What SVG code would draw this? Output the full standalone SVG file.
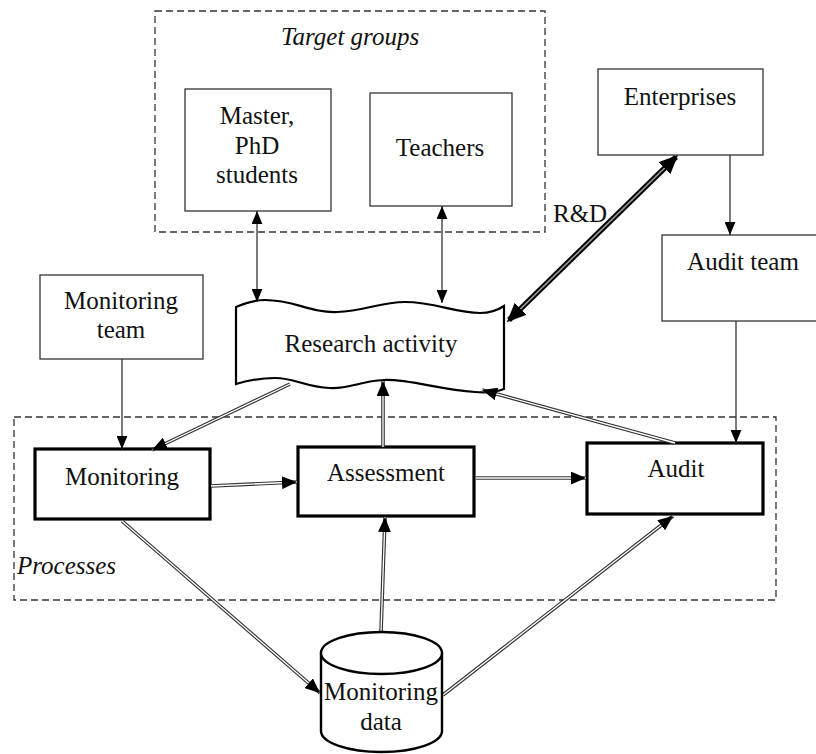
<svg xmlns="http://www.w3.org/2000/svg" width="816" height="754" viewBox="0 0 816 754">
<style>
text{font-family:"Times New Roman","Liberation Serif","DejaVu Serif","Noto Serif",serif;font-size:25px;fill:#111}
.c{text-anchor:middle}
.it{font-style:italic}
.thin{fill:#fff;stroke:#333;stroke-width:1.3}
.thick{fill:#fff;stroke:#000;stroke-width:3.2}
.dash{fill:none;stroke:#333;stroke-width:1.3;stroke-dasharray:7 4}
.ln{fill:none;stroke:#333;stroke-width:1.3}
.dout{fill:none;stroke:#333;stroke-width:3.6}
.din{fill:none;stroke:#fff;stroke-width:1.3}
.rout{fill:none;stroke:#000;stroke-width:5.5}
.rin{fill:none;stroke:#999;stroke-width:1.6}
</style>
<defs>
<marker id="ah" viewBox="0 0 12 10" refX="12" refY="5" markerWidth="13" markerHeight="11" markerUnits="userSpaceOnUse" orient="auto-start-reverse"><path d="M0,0 L12,5 L0,10 z" fill="#000"/></marker>
<marker id="ad" viewBox="0 0 14 12" refX="14" refY="6" markerWidth="15" markerHeight="13" markerUnits="userSpaceOnUse" orient="auto-start-reverse"><path d="M0,0 L14,6 L0,12 z" fill="#000"/></marker>
<marker id="ar" viewBox="0 0 18 16" refX="18" refY="8" markerWidth="19" markerHeight="17" markerUnits="userSpaceOnUse" orient="auto-start-reverse"><path d="M0,0 L18,8 L0,16 z" fill="#000"/></marker>
</defs>

<g id="target-groups">
<rect class="dash" x="155" y="11" width="390" height="221"/>
<text class="c it" x="350" y="45">Target groups</text>
</g>
<g id="processes">
<rect class="dash" x="14" y="417" width="762" height="183"/>
<text class="it" x="17" y="574">Processes</text>
</g>

<g id="master-phd">
<rect class="thin" x="185" y="89" width="146" height="122"/>
<text class="c" x="257" y="124">Master,</text>
<text class="c" x="257" y="154">PhD</text>
<text class="c" x="257" y="183">students</text>
</g>
<g id="teachers">
<rect class="thin" x="370" y="93" width="142" height="113"/>
<text class="c" x="440" y="156">Teachers</text>
</g>
<g id="enterprises">
<rect class="thin" x="598" y="69" width="165" height="86"/>
<text class="c" x="680" y="105">Enterprises</text>
</g>
<g id="audit-team">
<rect class="thin" x="662" y="235" width="160" height="86"/>
<text class="c" x="743" y="270">Audit team</text>
</g>
<g id="monitoring-team">
<rect class="thin" x="40" y="275" width="163" height="84"/>
<text class="c" x="121" y="309">Monitoring</text>
<text class="c" x="121" y="338">team</text>
</g>
<g id="research-activity">
<path d="M236,307 C248,302 255,300 265,300 C295,300 310,313 337,312 C365,311 380,302 405,302 C435,302 455,313 480,313 C492,313 498,310 504,306 L504,389 C496,392 488,393 475,392 C440,390 410,379 384,380 C360,381 350,389 330,388 C305,387 295,378 275,378 C260,378 246,381 236,384 Z" fill="#fff" stroke="#000" stroke-width="2.2"/>
<text class="c" x="371" y="352">Research activity</text>
</g>
<g id="monitoring">
<rect class="thick" x="35" y="449" width="175" height="70"/>
<text class="c" x="122" y="485">Monitoring</text>
</g>
<g id="assessment">
<rect class="thick" x="298" y="447" width="176" height="69"/>
<text class="c" x="386" y="481">Assessment</text>
</g>
<g id="audit">
<rect class="thick" x="587" y="443" width="176" height="71"/>
<text class="c" x="676" y="477">Audit</text>
</g>

<g id="connectors">
<path class="ln" d="M257,211 L257,302" marker-start="url(#ah)" marker-end="url(#ah)"/>
<path class="ln" d="M442,206 L442,303" marker-start="url(#ah)" marker-end="url(#ah)"/>
<path class="ln" d="M730,155 L730,235" marker-end="url(#ah)"/>
<path class="ln" d="M122,359 L122,449" marker-end="url(#ah)"/>
<path class="ln" d="M736,321 L736,443" marker-end="url(#ah)"/>

<path class="rout" d="M509,320 L676,157"/>
<path class="rin" d="M507,322 L678,155" marker-start="url(#ar)" marker-end="url(#ar)"/>
<text x="553" y="222">R&amp;D</text>

<path class="dout" d="M290,384 L152,450"/>
<path class="din" d="M290,384 L152,450" marker-end="url(#ad)"/>
<path class="dout" d="M211,486 L297,482"/>
<path class="din" d="M211,486 L297,482" marker-end="url(#ad)"/>
<path class="dout" d="M383,447 L383,381"/>
<path class="din" d="M383,447 L383,381" marker-end="url(#ad)"/>
<path class="dout" d="M476,478 L586,478"/>
<path class="din" d="M476,478 L586,478" marker-end="url(#ad)"/>
<path class="dout" d="M675,443 L482,390"/>
<path class="din" d="M675,443 L482,390" marker-end="url(#ad)"/>
<path class="dout" d="M122,521 L320,693"/>
<path class="din" d="M122,521 L320,693" marker-end="url(#ad)"/>
<path class="dout" d="M381,632 L385,517"/>
<path class="din" d="M381,632 L385,517" marker-end="url(#ad)"/>
<path class="dout" d="M443,695 L673,516"/>
<path class="din" d="M443,695 L673,516" marker-end="url(#ad)"/>
</g>

<g id="monitoring-data">
<path d="M321,653 L321,731 A60.5,21 0 0 0 442,731 L442,653" fill="#fff" stroke="#000" stroke-width="2.4"/>
<ellipse cx="381.5" cy="653" rx="60.5" ry="21" fill="#fff" stroke="#000" stroke-width="2.4"/>
<text class="c" x="381" y="700">Monitoring</text>
<text class="c" x="381" y="730">data</text>
</g>
</svg>
